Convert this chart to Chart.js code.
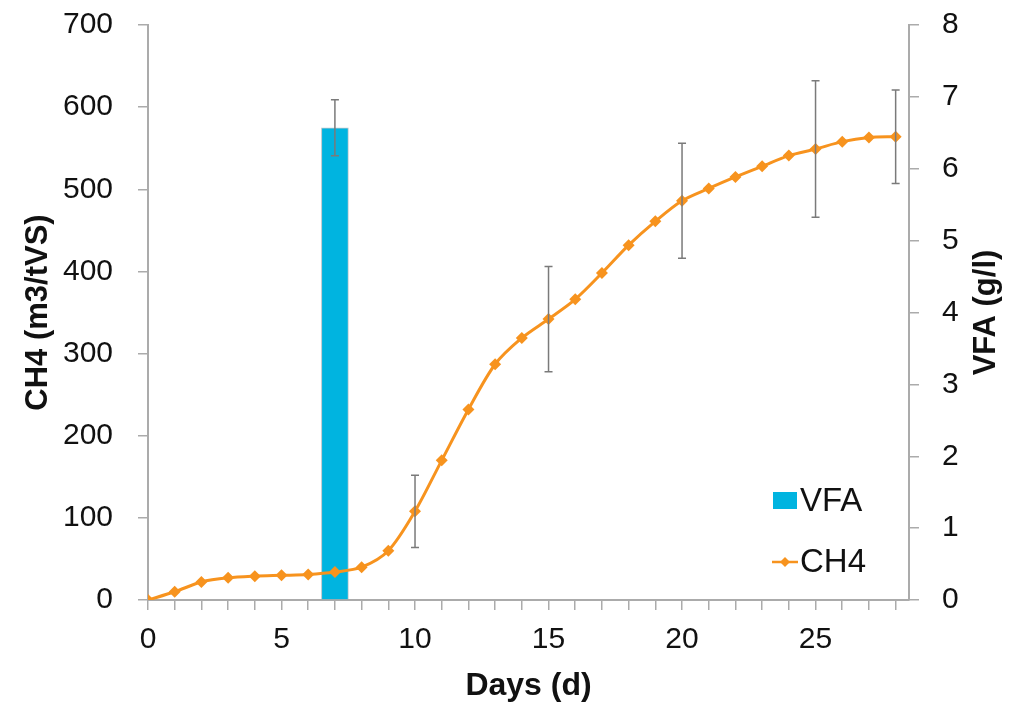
<!DOCTYPE html>
<html>
<head>
<meta charset="utf-8">
<script src="https://cdn.jsdelivr.net/npm/chart.js@4/dist/chart.umd.min.js"></script>
<style>
  html, body { margin: 0; padding: 0; background: #fff; }
  #wrap { width: 1022px; height: 708px; }
</style>
</head>
<body>
<div id="wrap"><canvas id="ch4Chart" width="1022" height="708"></canvas></div>
<script>
// data
const days = [0, 1, 2, 3, 4, 5, 6, 7, 8, 9, 10, 11, 12, 13, 14, 15, 16, 17, 18, 19, 20, 21, 22, 23, 24, 25, 26, 27, 28];
const ch4 = [0, 10, 22, 27, 29, 30, 31, 34, 40, 60, 108, 170, 232, 287, 319, 342, 366, 398, 432, 461, 486, 501, 515, 528, 541, 549, 558, 563, 564];
const ch4ErrDays = [10, 15, 20, 25, 28];
const ch4Err = [44, 64, 70, 83, 57];
const vfaDays = [7];
const vfa = [6.57];
const vfaErr = [0.39];
const xTickLabels = [0, 5, 10, 15, 20, 25];

const orange = '#f7931e';
const blue = '#00b4e0';
const axisGrey = '#ababab';
const fontFam = '"Liberation Sans", Arial, sans-serif';

Chart.defaults.font.family = fontFam;
Chart.defaults.color = '#111';

// error bars drawn with the chart's own scales
const errorBars = {
    id: 'errorBars',
    afterDatasetsDraw(chart) {
        const ctx = chart.ctx;
        const xs = chart.scales.x;
        const drawBar = (x, lo, hi, yScale) => {
            const px = xs.getPixelForValue(x);
            const top = yScale.getPixelForValue(hi);
            const bot = yScale.getPixelForValue(lo);
            ctx.beginPath();
            ctx.moveTo(px, top); ctx.lineTo(px, bot);
            ctx.moveTo(px - 4, top); ctx.lineTo(px + 4, top);
            ctx.moveTo(px - 4, bot); ctx.lineTo(px + 4, bot);
            ctx.stroke();
        };
        ctx.save();
        ctx.strokeStyle = '#7a7a7a';
        ctx.lineWidth = 1.5;
        ch4ErrDays.forEach((d, i) => {
            const v = ch4[days.indexOf(d)];
            drawBar(d, v - ch4Err[i], v + ch4Err[i], chart.scales.y);
        });
        vfaDays.forEach((d, i) => {
            drawBar(d, vfa[i] - vfaErr[i], vfa[i] + vfaErr[i], chart.scales.y1);
        });
        ctx.restore();
    }
};

// legend inside the plot + right axis title (reads bottom to top)
const extras = {
    id: 'extras',
    afterDraw(chart) {
        const ctx = chart.ctx;
        ctx.save();
        ctx.font = '33px ' + fontFam;
        ctx.textBaseline = 'middle';
        ctx.fillStyle = blue;
        ctx.fillRect(773, 492, 24, 17);
        ctx.fillStyle = '#111';
        ctx.fillText('VFA', 800, 502);

        ctx.strokeStyle = orange;
        ctx.lineWidth = 2.5;
        ctx.beginPath();
        ctx.moveTo(772, 562); ctx.lineTo(798, 562);
        ctx.stroke();
        ctx.fillStyle = orange;
        ctx.beginPath();
        ctx.moveTo(785, 557); ctx.lineTo(790, 562); ctx.lineTo(785, 567); ctx.lineTo(780, 562);
        ctx.closePath();
        ctx.fill();
        ctx.fillStyle = '#111';
        ctx.fillText('CH4', 800, 563);

        const ca = chart.chartArea;
        ctx.translate(986, (ca.top + ca.bottom) / 2);
        ctx.rotate(-Math.PI / 2);
        ctx.font = 'bold 31px ' + fontFam;
        ctx.textAlign = 'center';
        ctx.fillText('VFA (g/l)', 0, 0);
        ctx.restore();
    }
};

// keep the tick-label padding from pushing the plot down
const fixVertical = (w) => (s) => {
    s.width = w;
    s.paddingTop = 0;
    s.paddingBottom = 0;
};

const ctxEl = document.getElementById('ch4Chart');
new Chart(ctxEl, {
    type: 'bar',
    data: {
        datasets: [{
            type: 'line',
            label: 'CH4',
            data: days.map((d, i) => ({ x: d, y: ch4[i] })),
            yAxisID: 'y',
            borderColor: orange,
            backgroundColor: orange,
            borderWidth: 3,
            pointStyle: 'rectRot',
            pointRadius: 6,
            pointBorderWidth: 0,
            pointBackgroundColor: orange,
            tension: 0.3,
            order: 0
        }, {
            label: 'VFA',
            data: vfaDays.map((d, i) => ({ x: d, y: vfa[i] })),
            yAxisID: 'y1',
            backgroundColor: blue,
            borderColor: 'rgba(120,140,150,0.5)',
            borderWidth: 1,
            barThickness: 27,
            order: 1
        }]
    },
    options: {
        responsive: false,
        animation: false,
        layout: { padding: { top: 25 } },
        plugins: {
            legend: { display: false },
            tooltip: { enabled: false }
        },
        scales: {
            x: {
                type: 'linear',
                min: 0,
                max: 28.5,
                offset: false,
                grid: { offset: false, drawOnChartArea: false, tickLength: 10, color: axisGrey, lineWidth: 1.5 },
                border: { color: axisGrey, width: 2 },
                ticks: {
                    stepSize: 1,
                    includeBounds: false,
                    autoSkip: false,
                    maxRotation: 0,
                    padding: 12,
                    font: { size: 30 },
                    callback: (v) => xTickLabels.includes(v) ? String(v) : ''
                },
                title: {
                    display: true,
                    text: 'Days (d)',
                    font: { size: 32, weight: 'bold' },
                    padding: { top: 0, bottom: 3 }
                },
                afterFit: (s) => { s.height = 108; }
            },
            y: {
                position: 'left',
                min: 0,
                max: 700,
                grid: { drawOnChartArea: false, tickLength: 10, color: axisGrey, lineWidth: 1.5 },
                border: { color: axisGrey, width: 2 },
                ticks: { stepSize: 100, padding: 25, font: { size: 30 } },
                title: {
                    display: true,
                    text: 'CH4 (m3/tVS)',
                    font: { size: 31, weight: 'bold' },
                    padding: { top: 20, bottom: 0 }
                },
                afterFit: fixVertical(148)
            },
            y1: {
                position: 'right',
                min: 0,
                max: 8,
                grid: { drawOnChartArea: false, tickLength: 10, color: axisGrey, lineWidth: 1.5 },
                border: { color: axisGrey, width: 2 },
                ticks: { stepSize: 1, padding: 23, font: { size: 30 } },
                afterFit: fixVertical(113)
            }
        }
    },
    plugins: [errorBars, extras]
});
</script>
</body>
</html>
